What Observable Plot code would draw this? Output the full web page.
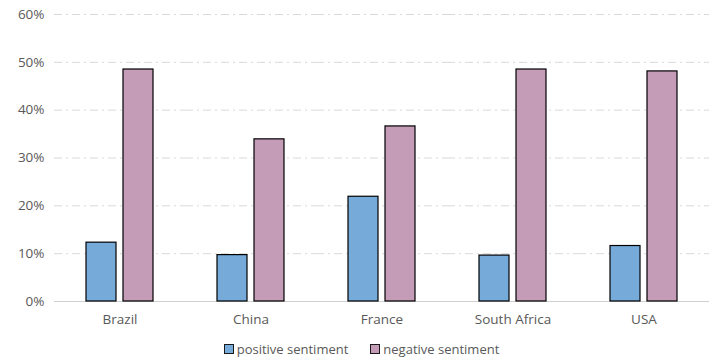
<!DOCTYPE html>
<html>
<head>
<meta charset="utf-8">
<script src="https://cdn.jsdelivr.net/npm/d3@7"></script>
<script src="https://cdn.jsdelivr.net/npm/@observablehq/plot@0.6"></script>
<style>
  body { margin: 0; background: #fff; font-family: "Open Sans", "Noto Sans", sans-serif; }
  #chart { width: 715px; }
  .legend { display: flex; justify-content: center; gap: 22px; font-size: 13px; color: #595959; margin-top: 4px; padding-left: 8px; }
  .legend span.item { display: inline-flex; align-items: center; }
  .legend i { display: inline-block; width: 8px; height: 8px; border: 1px solid #1a1a1a; margin-right: 3px; }
</style>
</head>
<body>
<div id="chart"></div>
<script>
const countries = ["Brazil", "China", "France", "South Africa", "USA"];
const series = ["positive sentiment", "negative sentiment"];
const positive = [0.123, 0.097, 0.219, 0.096, 0.116];
const negative = [0.485, 0.339, 0.366, 0.485, 0.481];
const colors = ["#75aad9", "#c49cb8"];
const yTicks = [0, 0.1, 0.2, 0.3, 0.4, 0.5, 0.6];

const data = countries.flatMap((c, i) => [
  {country: c, series: series[0], value: positive[i]},
  {country: c, series: series[1], value: negative[i]}
]);

const plot = Plot.plot({
  width: 715,
  height: 336,
  marginTop: 14,
  marginBottom: 35,
  marginLeft: 54,
  marginRight: 6,
  style: {fontFamily: "'Open Sans', 'Noto Sans', sans-serif", fontSize: "13.5px", color: "#595959"},
  fx: {domain: countries, padding: 0, label: null, tickSize: 0, tickPadding: 13, axis: "bottom"},
  x: {domain: series, axis: null, paddingInner: 0.2, paddingOuter: 0.845},
  y: {domain: [0, 0.6], ticks: yTicks, tickFormat: d3.format(".0%"), label: null, tickSize: 0, tickPadding: 10},
  color: {domain: series, range: colors},
  marks: [
    Plot.ruleY(yTicks.filter(d => d > 0), {stroke: "#d9d9d9", strokeWidth: 1, strokeDasharray: "8,4,2,4"}),
    Plot.ruleY([0], {stroke: "#d0d0d0", strokeWidth: 1}),
    Plot.barY(data, {fx: "country", x: "series", y: "value", fill: "series", stroke: "#000", strokeWidth: 1.2})
  ]
});
document.getElementById("chart").appendChild(plot);

const legend = document.createElement("div");
legend.className = "legend";
series.forEach((s, i) => {
  const item = document.createElement("span");
  item.className = "item";
  const sw = document.createElement("i");
  sw.style.background = colors[i];
  item.appendChild(sw);
  item.appendChild(document.createTextNode(s));
  legend.appendChild(item);
});
document.getElementById("chart").appendChild(legend);
</script>
</body>
</html>
